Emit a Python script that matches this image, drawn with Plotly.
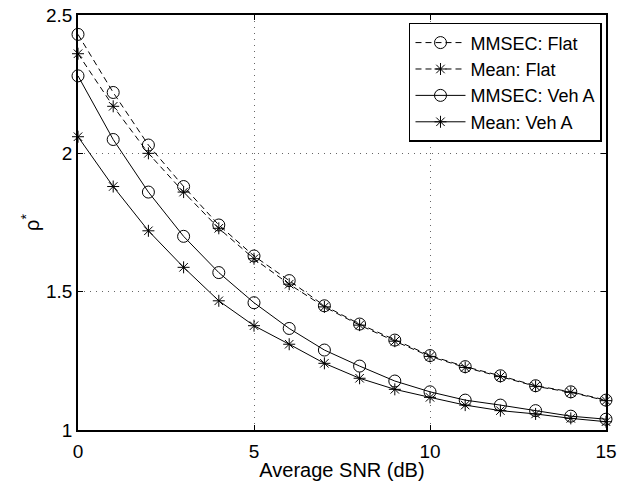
import plotly.graph_objects as go

snr = list(range(16))
mmsec_flat = [2.43, 2.22, 2.03, 1.88, 1.741, 1.629, 1.54, 1.449, 1.383, 1.325, 1.269, 1.229, 1.196, 1.16, 1.138, 1.108]
mean_flat = [2.36, 2.17, 2.00, 1.86, 1.729, 1.619, 1.527, 1.445, 1.379, 1.321, 1.266, 1.226, 1.193, 1.158, 1.136, 1.106]
mmsec_veh = [2.28, 2.05, 1.86, 1.70, 1.569, 1.46, 1.367, 1.289, 1.231, 1.177, 1.138, 1.108, 1.09, 1.07, 1.05, 1.039]
mean_veh = [2.06, 1.88, 1.72, 1.588, 1.467, 1.377, 1.31, 1.241, 1.187, 1.147, 1.118, 1.09, 1.07, 1.058, 1.042, 1.03]

series = [
    ("MMSEC: Flat", mmsec_flat, "circle-open", "dash"),
    ("Mean: Flat", mean_flat, "asterisk-open", "dash"),
    ("MMSEC: Veh A", mmsec_veh, "circle-open", "solid"),
    ("Mean: Veh A", mean_veh, "asterisk-open", "solid"),
]

fig = go.Figure()
for name, vals, sym, dash in series:
    fig.add_trace(go.Scatter(
        x=snr, y=vals, name=name, mode="lines+markers",
        line=dict(color="black", width=1, dash="6px,4px" if dash == "dash" else "solid"),
        marker=dict(symbol=sym, size=12 if sym == "circle-open" else 10,
                    color="black", line=dict(color="black", width=1)),
        cliponaxis=False,
    ))

font = "Liberation Sans, Arial, Helvetica, sans-serif"
axis_common = dict(
    showline=True, linecolor="black", linewidth=1.5, mirror="ticks",
    ticks="inside", ticklen=5, tickcolor="black", tickwidth=1,
    showgrid=True, gridcolor="rgba(0,0,0,0.6)", griddash="1px,5px", gridwidth=1,
    zeroline=False, tickfont=dict(family=font, size=19, color="black"),
    automargin=False,
)

fig.update_layout(
    width=629, height=481,
    margin=dict(l=78, r=23, t=15, b=51),
    paper_bgcolor="white", plot_bgcolor="white",
    font=dict(family=font, size=19, color="black"),
    xaxis=dict(range=[0, 15], tickvals=[0, 5, 10, 15], ticklabelstandoff=3,
               title=dict(text="Average SNR (dB)", font=dict(family=font, size=20), standoff=2),
               **axis_common),
    yaxis=dict(range=[1, 2.5], tickvals=[1, 1.5, 2, 2.5], ticktext=["1", "1.5", "2", "2.5"],
               ticklabelstandoff=0,
               title=dict(text="ρ<sup>*</sup>", font=dict(family=font, size=20), standoff=1),
               **axis_common),
    legend=dict(x=0.9924, y=0.981, xanchor="right", yanchor="top",
                bgcolor="white", bordercolor="black", borderwidth=1.5,
                font=dict(family=font, size=18, color="black"),
                tracegroupgap=0, itemwidth=50),
    showlegend=True,
)

fig.write_html("out.html", config={"displayModeBar": False},
               post_script="document.body.style.margin='0';document.body.style.overflow='hidden';")
